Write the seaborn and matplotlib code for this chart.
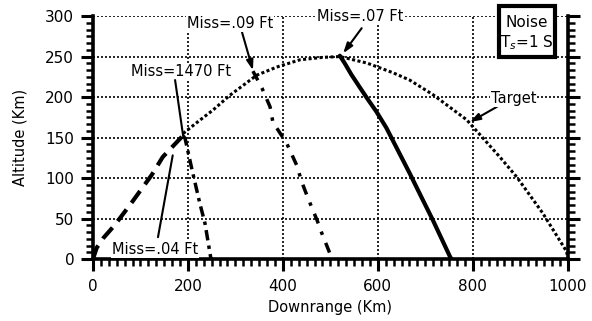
import matplotlib
matplotlib.use("Agg")
import matplotlib.pyplot as plt
from matplotlib.ticker import MultipleLocator
from matplotlib.patches import Rectangle
import seaborn as sns

# curves (downrange km, altitude km)
target_x = [190, 222, 253, 288, 345, 387, 436, 484, 520,
            577, 632, 667, 716, 787, 857, 893, 947, 998, 1000]
target_y = [155, 170, 184, 202, 227, 237, 246, 249, 250,
            242, 230, 221, 203, 172, 126, 101, 57, 9, 0]

miss04_x = [0, 8, 22, 46, 82, 124, 147, 189]
miss04_y = [0, 14, 26, 42, 70, 104, 126, 152]

miss1470_x = [190, 194, 208, 225, 236, 248, 250]
miss1470_y = [152, 149, 112, 69, 44, 2, 0]

miss09_x = [337, 356, 373, 379, 408, 429, 440, 453, 472, 482, 499, 500]
miss09_y = [232, 211, 188, 169, 143, 116, 95, 75, 48, 32, 7, 0]

miss07_x = [520, 530, 544, 562, 578, 597, 618, 639, 667, 688, 716, 752, 755]
miss07_y = [251, 242, 228, 212, 198, 182, 162, 138, 106, 81, 48, 3, 0]

# label text, text position, arrow tail, arrow tip
labels = ["Miss=1470 Ft", "Miss=.04 Ft", "Miss=.09 Ft", "Miss=.07 Ft", "Target"]
label_xy = [(185, 232), (131, 12), (288, 291), (562, 299), (886, 198)]
tail_xy = [(173, 221), (137, 27), (314, 280), (566, 285), (851, 188)]
tip_xy = [(190, 152), (168, 128), (337, 233), (527, 254), (794, 169)]
heads = [False, False, True, True, True]

sns.set_style("white")
plt.rcParams['font.family'] = ['DejaVu Sans']
plt.rcParams.update({'text.color': 'k', 'axes.labelcolor': 'k',
                     'xtick.color': 'k', 'ytick.color': 'k'})

fig = plt.figure(figsize=(5.92, 3.21), dpi=100)
ax = fig.add_axes([0.157, 0.193, 0.802, 0.757])

sns.lineplot(x=target_x, y=target_y, ax=ax, color='k', lw=2.2,
             linestyle=(0, (1, 0.8)), sort=False)
sns.lineplot(x=miss04_x, y=miss04_y, ax=ax, color='k', lw=3,
             linestyle=(0, (3.5, 2)), sort=False)
sns.lineplot(x=miss1470_x, y=miss1470_y, ax=ax, color='k', lw=2.5,
             linestyle=(0, (3, 1.5, 1, 1.5)), sort=False)
sns.lineplot(x=miss09_x, y=miss09_y, ax=ax, color='k', lw=2.5,
             linestyle=(0, (3, 2.5, 1, 2.5)), sort=False)
sns.lineplot(x=miss07_x, y=miss07_y, ax=ax, color='k', lw=3, sort=False)

for txt, lxy, t0, t1, hd in zip(labels, label_xy, tail_xy, tip_xy, heads):
    ax.annotate("", xy=t1, xytext=t0,
                arrowprops=dict(arrowstyle='-|>,head_length=0.6,head_width=0.2' if hd else '-',
                                color='k', lw=1.5, shrinkA=0, shrinkB=0))
    ax.text(lxy[0], lxy[1], txt, ha='center', va='center', fontsize=10.5,
            bbox=dict(facecolor='white', edgecolor='none', pad=0.5), zorder=5,
            clip_on=False)

ax.set_xlim(0, 1000)
ax.set_ylim(0, 300)
ax.xaxis.set_major_locator(MultipleLocator(200))
ax.xaxis.set_minor_locator(MultipleLocator(200 / 12))
ax.yaxis.set_major_locator(MultipleLocator(50))
ax.yaxis.set_minor_locator(MultipleLocator(50 / 6))
ax.grid(True, which='major', color='k', lw=1.2, linestyle=(0, (1.2, 1.2)))
ax.set_axisbelow(True)

for s in ['left', 'bottom', 'right']:
    ax.spines[s].set_linewidth(2.6)
    ax.spines[s].set_color('k')
ax.spines['top'].set_visible(False)
ax.tick_params(which='both', direction='out', color='k',
               left=True, bottom=True, right=True, labelsize=11)
ax.tick_params(which='major', length=8.5, width=2.2)
ax.tick_params(axis='x', which='major', pad=6)
ax.tick_params(axis='y', which='major', pad=5)
ax.tick_params(which='minor', length=5, width=1.8)

ax.set_xlabel("Downrange (Km)", fontsize=10.5, labelpad=4)
ax.set_ylabel("Altitude (Km)", fontsize=10.5, labelpad=13)

fig.patches.append(Rectangle((0.843, 0.822), 0.094, 0.16, transform=fig.transFigure,
                             facecolor='white', edgecolor='k', lw=3, zorder=10))
fig.text(0.890, 0.931, "Noise", ha='center', va='center', fontsize=11, zorder=11)
fig.text(0.890, 0.866, "T$_s$=1 S", ha='center', va='center', fontsize=11, zorder=11)

fig.savefig("out.png", dpi=100)
